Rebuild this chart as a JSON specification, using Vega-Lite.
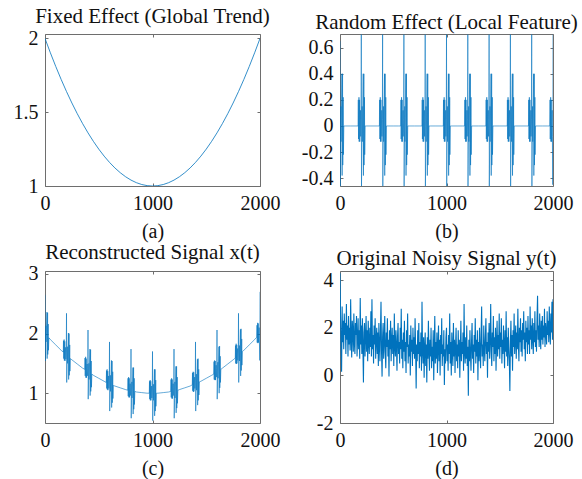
{
  "$schema": "https://vega.github.io/schema/vega-lite/v6.json",
  "padding": {"left": 12, "top": 5, "right": 0, "bottom": 0},
  "background": "white",
  "columns": 2,
  "spacing": {"row": 85, "column": 80},
  "bounds": "flush",
  "datasets": {
    "fixed": [
      {"t":0,"f":2},{"t":50,"f":1.9025},{"t":100,"f":1.81},{"t":150,"f":1.7225},{"t":200,"f":1.64},{"t":250,"f":1.5625},{"t":300,"f":1.49},{"t":350,"f":1.4225},{"t":400,"f":1.36},{"t":450,"f":1.3025},{"t":500,"f":1.25},{"t":550,"f":1.2025},{"t":600,"f":1.16},{"t":650,"f":1.1225},{"t":700,"f":1.09},{"t":750,"f":1.0625},{"t":800,"f":1.04},{"t":850,"f":1.0225},{"t":900,"f":1.01},{"t":950,"f":1.0025},{"t":1000,"f":1},
      {"t":1050,"f":1.0025},{"t":1100,"f":1.01},{"t":1150,"f":1.0225},{"t":1200,"f":1.04},{"t":1250,"f":1.0625},{"t":1300,"f":1.09},{"t":1350,"f":1.1225},{"t":1400,"f":1.16},{"t":1450,"f":1.2025},{"t":1500,"f":1.25},{"t":1550,"f":1.3025},{"t":1600,"f":1.36},{"t":1650,"f":1.4225},{"t":1700,"f":1.49},{"t":1750,"f":1.5625},{"t":1800,"f":1.64},{"t":1850,"f":1.7225},{"t":1900,"f":1.81},{"t":1950,"f":1.9025},{"t":2000,"f":2}
    ],
    "rx": [
      {"t":0,"r":0.65,"x":2.65},{"t":2,"r":-0.46,"x":1.54},{"t":8,"r":0.15,"x":2.13},{"t":10,"r":-0.12,"x":1.86},{"t":18,"r":0.4,"x":2.36},{"t":20,"r":-0.38,"x":1.58},{"t":24,"r":0.4,"x":2.35},{"t":26,"r":-0.3,"x":1.65},{"t":30,"r":0.22,"x":2.16},{"t":32,"r":-0.22,"x":1.72},{"t":36,"r":0,"x":1.93},
      {"t":50,"r":0,"x":1.9},{"t":100,"r":0,"x":1.81},{"t":150,"r":0,"x":1.72},
      {"t":170,"r":0,"x":1.69},{"t":172,"r":0.2,"x":1.88},{"t":174,"r":-0.1,"x":1.58},{"t":178,"r":0.22,"x":1.9},{"t":180,"r":-0.12,"x":1.55},{"t":184,"r":0.2,"x":1.87},{"t":186,"r":-0.12,"x":1.54},{"t":192,"r":0.12,"x":1.77},{"t":194,"r":-0.08,"x":1.57},{"t":198,"r":0.05,"x":1.69},{"t":200,"r":0.7,"x":2.34},{"t":202,"r":-0.46,"x":1.18},{"t":208,"r":0.15,"x":1.78},{"t":210,"r":-0.12,"x":1.5},{"t":218,"r":0.4,"x":2.01},{"t":220,"r":-0.38,"x":1.23},{"t":224,"r":0.4,"x":2.0},{"t":226,"r":-0.3,"x":1.3},{"t":230,"r":0.22,"x":1.81},{"t":232,"r":-0.22,"x":1.37},{"t":236,"r":0,"x":1.58},
      {"t":250,"r":0,"x":1.56},{"t":300,"r":0,"x":1.49},{"t":350,"r":0,"x":1.42},
      {"t":370,"r":0,"x":1.4},{"t":372,"r":0.2,"x":1.59},{"t":374,"r":-0.1,"x":1.29},{"t":378,"r":0.22,"x":1.61},{"t":380,"r":-0.12,"x":1.26},{"t":384,"r":0.2,"x":1.58},{"t":386,"r":-0.12,"x":1.26},{"t":392,"r":0.12,"x":1.49},{"t":394,"r":-0.08,"x":1.29},{"t":398,"r":0.05,"x":1.41},{"t":400,"r":0.7,"x":2.06},{"t":402,"r":-0.46,"x":0.9},{"t":408,"r":0.15,"x":1.5},{"t":410,"r":-0.12,"x":1.23},{"t":418,"r":0.4,"x":1.74},{"t":420,"r":-0.38,"x":0.96},{"t":424,"r":0.4,"x":1.73},{"t":426,"r":-0.3,"x":1.03},{"t":430,"r":0.22,"x":1.54},{"t":432,"r":-0.22,"x":1.1},{"t":436,"r":0,"x":1.32},
      {"t":450,"r":0,"x":1.3},{"t":500,"r":0,"x":1.25},{"t":550,"r":0,"x":1.2},
      {"t":570,"r":0,"x":1.18},{"t":572,"r":0.2,"x":1.38},{"t":574,"r":-0.1,"x":1.08},{"t":578,"r":0.22,"x":1.4},{"t":580,"r":-0.12,"x":1.06},{"t":584,"r":0.2,"x":1.37},{"t":586,"r":-0.12,"x":1.05},{"t":592,"r":0.12,"x":1.29},{"t":594,"r":-0.08,"x":1.08},{"t":598,"r":0.05,"x":1.21},{"t":600,"r":0.7,"x":1.86},{"t":602,"r":-0.46,"x":0.7},{"t":608,"r":0.15,"x":1.3},{"t":610,"r":-0.12,"x":1.03},{"t":618,"r":0.4,"x":1.55},{"t":620,"r":-0.38,"x":0.76},{"t":624,"r":0.4,"x":1.54},{"t":626,"r":-0.3,"x":0.84},{"t":630,"r":0.22,"x":1.36},{"t":632,"r":-0.22,"x":0.91},{"t":636,"r":0,"x":1.13},
      {"t":650,"r":0,"x":1.12},{"t":700,"r":0,"x":1.09},{"t":750,"r":0,"x":1.06},
      {"t":770,"r":0,"x":1.05},{"t":772,"r":0.2,"x":1.25},{"t":774,"r":-0.1,"x":0.95},{"t":778,"r":0.22,"x":1.27},{"t":780,"r":-0.12,"x":0.93},{"t":784,"r":0.2,"x":1.25},{"t":786,"r":-0.12,"x":0.93},{"t":792,"r":0.12,"x":1.16},{"t":794,"r":-0.08,"x":0.96},{"t":798,"r":0.05,"x":1.09},{"t":800,"r":0.7,"x":1.74},{"t":802,"r":-0.46,"x":0.58},{"t":808,"r":0.15,"x":1.19},{"t":810,"r":-0.12,"x":0.92},{"t":818,"r":0.4,"x":1.43},{"t":820,"r":-0.38,"x":0.65},{"t":824,"r":0.4,"x":1.43},{"t":826,"r":-0.3,"x":0.73},{"t":830,"r":0.22,"x":1.25},{"t":832,"r":-0.22,"x":0.81},{"t":836,"r":0,"x":1.03},
      {"t":850,"r":0,"x":1.02},{"t":900,"r":0,"x":1.01},{"t":950,"r":0,"x":1},
      {"t":970,"r":0,"x":1},{"t":972,"r":0.2,"x":1.2},{"t":974,"r":-0.1,"x":0.9},{"t":978,"r":0.22,"x":1.22},{"t":980,"r":-0.12,"x":0.88},{"t":984,"r":0.2,"x":1.2},{"t":986,"r":-0.12,"x":0.88},{"t":992,"r":0.12,"x":1.12},{"t":994,"r":-0.08,"x":0.92},{"t":998,"r":0.05,"x":1.05},{"t":1000,"r":0.7,"x":1.7},{"t":1002,"r":-0.46,"x":0.54},{"t":1008,"r":0.15,"x":1.15},{"t":1010,"r":-0.12,"x":0.88},{"t":1018,"r":0.4,"x":1.4},{"t":1020,"r":-0.38,"x":0.62},{"t":1024,"r":0.4,"x":1.4},{"t":1026,"r":-0.3,"x":0.7},{"t":1030,"r":0.22,"x":1.22},{"t":1032,"r":-0.22,"x":0.78},{"t":1036,"r":0,"x":1},
      {"t":1050,"r":0,"x":1},{"t":1100,"r":0,"x":1.01},{"t":1150,"r":0,"x":1.02},
      {"t":1170,"r":0,"x":1.03},{"t":1172,"r":0.2,"x":1.23},{"t":1174,"r":-0.1,"x":0.93},{"t":1178,"r":0.22,"x":1.25},{"t":1180,"r":-0.12,"x":0.91},{"t":1184,"r":0.2,"x":1.23},{"t":1186,"r":-0.12,"x":0.91},{"t":1192,"r":0.12,"x":1.16},{"t":1194,"r":-0.08,"x":0.96},{"t":1198,"r":0.05,"x":1.09},{"t":1200,"r":0.7,"x":1.74},{"t":1202,"r":-0.46,"x":0.58},{"t":1208,"r":0.15,"x":1.19},{"t":1210,"r":-0.12,"x":0.92},{"t":1218,"r":0.4,"x":1.45},{"t":1220,"r":-0.38,"x":0.67},{"t":1224,"r":0.4,"x":1.45},{"t":1226,"r":-0.3,"x":0.75},{"t":1230,"r":0.22,"x":1.27},{"t":1232,"r":-0.22,"x":0.83},{"t":1236,"r":0,"x":1.05},
      {"t":1250,"r":0,"x":1.06},{"t":1300,"r":0,"x":1.09},{"t":1350,"r":0,"x":1.12},
      {"t":1370,"r":0,"x":1.14},{"t":1372,"r":0.2,"x":1.34},{"t":1374,"r":-0.1,"x":1.04},{"t":1378,"r":0.22,"x":1.36},{"t":1380,"r":-0.12,"x":1.02},{"t":1384,"r":0.2,"x":1.35},{"t":1386,"r":-0.12,"x":1.03},{"t":1392,"r":0.12,"x":1.27},{"t":1394,"r":-0.08,"x":1.08},{"t":1398,"r":0.05,"x":1.21},{"t":1400,"r":0.7,"x":1.86},{"t":1402,"r":-0.46,"x":0.7},{"t":1408,"r":0.15,"x":1.32},{"t":1410,"r":-0.12,"x":1.05},{"t":1418,"r":0.4,"x":1.57},{"t":1420,"r":-0.38,"x":0.8},{"t":1424,"r":0.4,"x":1.58},{"t":1426,"r":-0.3,"x":0.88},{"t":1430,"r":0.22,"x":1.4},{"t":1432,"r":-0.22,"x":0.97},{"t":1436,"r":0,"x":1.19},
      {"t":1450,"r":0,"x":1.2},{"t":1500,"r":0,"x":1.25},{"t":1550,"r":0,"x":1.3},
      {"t":1570,"r":0,"x":1.32},{"t":1572,"r":0.2,"x":1.53},{"t":1574,"r":-0.1,"x":1.23},{"t":1578,"r":0.22,"x":1.55},{"t":1580,"r":-0.12,"x":1.22},{"t":1584,"r":0.2,"x":1.54},{"t":1586,"r":-0.12,"x":1.22},{"t":1592,"r":0.12,"x":1.47},{"t":1594,"r":-0.08,"x":1.27},{"t":1598,"r":0.05,"x":1.41},{"t":1600,"r":0.7,"x":2.06},{"t":1602,"r":-0.46,"x":0.9},{"t":1608,"r":0.15,"x":1.52},{"t":1610,"r":-0.12,"x":1.25},{"t":1618,"r":0.4,"x":1.78},{"t":1620,"r":-0.38,"x":1.0},{"t":1624,"r":0.4,"x":1.79},{"t":1626,"r":-0.3,"x":1.09},{"t":1630,"r":0.22,"x":1.62},{"t":1632,"r":-0.22,"x":1.18},{"t":1636,"r":0,"x":1.4},
      {"t":1650,"r":0,"x":1.42},{"t":1700,"r":0,"x":1.49},{"t":1750,"r":0,"x":1.56},
      {"t":1770,"r":0,"x":1.59},{"t":1772,"r":0.2,"x":1.8},{"t":1774,"r":-0.1,"x":1.5},{"t":1778,"r":0.22,"x":1.83},{"t":1780,"r":-0.12,"x":1.49},{"t":1784,"r":0.2,"x":1.81},{"t":1786,"r":-0.12,"x":1.5},{"t":1792,"r":0.12,"x":1.75},{"t":1794,"r":-0.08,"x":1.55},{"t":1798,"r":0.05,"x":1.69},{"t":1800,"r":0.7,"x":2.34},{"t":1802,"r":-0.46,"x":1.18},{"t":1808,"r":0.15,"x":1.8},{"t":1810,"r":-0.12,"x":1.54},{"t":1818,"r":0.4,"x":2.07},{"t":1820,"r":-0.38,"x":1.29},{"t":1824,"r":0.4,"x":2.08},{"t":1826,"r":-0.3,"x":1.38},{"t":1830,"r":0.22,"x":1.91},{"t":1832,"r":-0.22,"x":1.47},{"t":1836,"r":0,"x":1.7},
      {"t":1850,"r":0,"x":1.72},{"t":1900,"r":0,"x":1.81},{"t":1950,"r":0,"x":1.9},
      {"t":1970,"r":0,"x":1.94},{"t":1972,"r":0.2,"x":2.14},{"t":1974,"r":-0.1,"x":1.85},{"t":1978,"r":0.22,"x":2.18},{"t":1980,"r":-0.12,"x":1.84},{"t":1984,"r":0.2,"x":2.17},{"t":1986,"r":-0.12,"x":1.85},{"t":1992,"r":0.12,"x":2.1},{"t":1994,"r":-0.08,"x":1.91},{"t":1998,"r":-0.45,"x":1.55},{"t":2000,"r":0.7,"x":2.7}
    ],
    "noisy": [
      {"t":0,"y":4.3},{"t":5,"y":2.55},{"t":10,"y":1.2},{"t":15,"y":0.15},{"t":20,"y":2.9},{"t":25,"y":1.4},{"t":30,"y":2.3},{"t":35,"y":1.1},{"t":40,"y":2.6},{"t":45,"y":1.7},{"t":50,"y":2.2},{"t":55,"y":0.9},{"t":60,"y":3.0},{"t":65,"y":1.5},{"t":70,"y":2.1},{"t":75,"y":0.8},{"t":80,"y":2.5},{"t":85,"y":1.3},{"t":90,"y":2.0},{"t":95,"y":1.05},
      {"t":100,"y":3.2},{"t":105,"y":1.6},{"t":110,"y":0.75},{"t":115,"y":2.3},{"t":120,"y":1.9},{"t":125,"y":1.0},{"t":130,"y":2.6},{"t":135,"y":1.4},{"t":140,"y":0.9},{"t":145,"y":2.2},{"t":150,"y":1.7},{"t":155,"y":2.5},{"t":160,"y":0.8},{"t":165,"y":1.5},{"t":170,"y":2.4},{"t":175,"y":1.1},{"t":180,"y":1.9},{"t":185,"y":0.7},{"t":190,"y":3.25},{"t":195,"y":1.3},
      {"t":200,"y":2.1},{"t":205,"y":0.9},{"t":210,"y":2.4},{"t":215,"y":1.2},{"t":220,"y":-0.3},{"t":225,"y":1.8},{"t":230,"y":2.2},{"t":235,"y":0.8},{"t":240,"y":1.6},{"t":245,"y":2.5},{"t":250,"y":1.0},{"t":255,"y":1.9},{"t":260,"y":0.6},{"t":265,"y":2.3},{"t":270,"y":1.4},{"t":275,"y":0.9},{"t":280,"y":2.0},{"t":285,"y":1.2},{"t":290,"y":2.7},{"t":295,"y":0.8},
      {"t":300,"y":3.2},{"t":305,"y":1.1},{"t":310,"y":1.7},{"t":315,"y":0.5},{"t":320,"y":2.1},{"t":325,"y":1.3},{"t":330,"y":2.4},{"t":335,"y":0.7},{"t":340,"y":1.5},{"t":345,"y":2.0},{"t":350,"y":0.9},{"t":355,"y":1.8},{"t":360,"y":0.4},{"t":365,"y":2.2},{"t":370,"y":1.3},{"t":375,"y":0.6},{"t":380,"y":1.9},{"t":385,"y":3.1},{"t":390,"y":1.0},{"t":395,"y":-0.05},
      {"t":400,"y":1.6},{"t":405,"y":2.2},{"t":410,"y":0.7},{"t":415,"y":1.4},{"t":420,"y":2.5},{"t":425,"y":1.0},{"t":430,"y":0.3},{"t":435,"y":1.8},{"t":440,"y":1.2},{"t":445,"y":2.4},{"t":450,"y":0.8},{"t":455,"y":1.5},{"t":460,"y":-0.05},{"t":465,"y":1.9},{"t":470,"y":1.1},{"t":475,"y":2.3},{"t":480,"y":0.6},{"t":485,"y":1.4},{"t":490,"y":2.0},{"t":495,"y":0.9},
      {"t":500,"y":1.7},{"t":505,"y":0.4},{"t":510,"y":2.6},{"t":515,"y":1.2},{"t":520,"y":0.8},{"t":525,"y":1.9},{"t":530,"y":1.3},{"t":535,"y":0.2},{"t":540,"y":1.6},{"t":545,"y":2.2},{"t":550,"y":0.9},{"t":555,"y":1.4},{"t":560,"y":0.5},{"t":565,"y":2.0},{"t":570,"y":1.1},{"t":575,"y":2.8},{"t":580,"y":0.7},{"t":585,"y":1.5},{"t":590,"y":0.3},{"t":595,"y":1.8},
      {"t":600,"y":1.0},{"t":605,"y":2.3},{"t":610,"y":0.6},{"t":615,"y":1.4},{"t":620,"y":0.1},{"t":625,"y":1.9},{"t":630,"y":1.2},{"t":635,"y":2.6},{"t":640,"y":0.5},{"t":645,"y":1.3},{"t":650,"y":0.8},{"t":655,"y":1.7},{"t":660,"y":0.0},{"t":665,"y":2.1},{"t":670,"y":1.0},{"t":675,"y":1.5},{"t":680,"y":0.4},{"t":685,"y":2.0},{"t":690,"y":0.9},{"t":695,"y":1.6},
      {"t":700,"y":0.7},{"t":705,"y":2.4},{"t":710,"y":1.1},{"t":715,"y":-0.55},{"t":720,"y":1.3},{"t":725,"y":0.6},{"t":730,"y":1.9},{"t":735,"y":0.9},{"t":740,"y":2.2},{"t":745,"y":0.3},{"t":750,"y":1.4},{"t":755,"y":0.8},{"t":760,"y":1.8},{"t":765,"y":0.2},{"t":770,"y":3.1},{"t":775,"y":1.0},{"t":780,"y":0.5},{"t":785,"y":1.6},{"t":790,"y":-0.1},{"t":795,"y":1.2},
      {"t":800,"y":1.8},{"t":805,"y":0.4},{"t":810,"y":1.3},{"t":815,"y":-0.3},{"t":820,"y":1.6},{"t":825,"y":0.7},{"t":830,"y":2.3},{"t":835,"y":1.0},{"t":840,"y":0.2},{"t":845,"y":1.5},{"t":850,"y":0.8},{"t":855,"y":2.0},{"t":860,"y":0.3},{"t":865,"y":1.2},{"t":870,"y":0.6},{"t":875,"y":1.9},{"t":880,"y":-0.2},{"t":885,"y":1.1},{"t":890,"y":2.5},{"t":895,"y":0.5},
      {"t":900,"y":1.4},{"t":905,"y":0.7},{"t":910,"y":1.8},{"t":915,"y":0.1},{"t":920,"y":1.2},{"t":925,"y":2.1},{"t":930,"y":0.6},{"t":935,"y":1.5},{"t":940,"y":0.0},{"t":945,"y":1.7},{"t":950,"y":0.9},{"t":955,"y":2.4},{"t":960,"y":0.4},{"t":965,"y":1.3},{"t":970,"y":0.8},{"t":975,"y":1.9},{"t":980,"y":-0.4},{"t":985,"y":1.1},{"t":990,"y":0.5},{"t":995,"y":1.6},
      {"t":1000,"y":2.0},{"t":1005,"y":0.6},{"t":1010,"y":1.3},{"t":1015,"y":0.2},{"t":1020,"y":1.7},{"t":1025,"y":0.9},{"t":1030,"y":2.6},{"t":1035,"y":0.5},{"t":1040,"y":1.4},{"t":1045,"y":0.0},{"t":1050,"y":1.8},{"t":1055,"y":1.0},{"t":1060,"y":0.4},{"t":1065,"y":2.2},{"t":1070,"y":0.8},{"t":1075,"y":1.5},{"t":1080,"y":0.1},{"t":1085,"y":1.2},{"t":1090,"y":2.0},{"t":1095,"y":0.6},
      {"t":1100,"y":1.3},{"t":1105,"y":0.3},{"t":1110,"y":1.9},{"t":1115,"y":0.8},{"t":1120,"y":1.5},{"t":1125,"y":-0.1},{"t":1130,"y":1.1},{"t":1135,"y":2.3},{"t":1140,"y":0.6},{"t":1145,"y":1.4},{"t":1150,"y":0.9},{"t":1155,"y":1.8},{"t":1160,"y":0.2},{"t":1165,"y":3.0},{"t":1170,"y":1.0},{"t":1175,"y":0.5},{"t":1180,"y":1.6},{"t":1185,"y":0.7},{"t":1190,"y":2.1},{"t":1195,"y":0.4},
      {"t":1200,"y":1.2},{"t":1205,"y":-0.85},{"t":1210,"y":1.5},{"t":1215,"y":0.6},{"t":1220,"y":1.9},{"t":1225,"y":0.9},{"t":1230,"y":0.2},{"t":1235,"y":1.4},{"t":1240,"y":2.2},{"t":1245,"y":0.7},{"t":1250,"y":1.3},{"t":1255,"y":0.1},{"t":1260,"y":1.7},{"t":1265,"y":1.0},{"t":1270,"y":2.4},{"t":1275,"y":0.5},{"t":1280,"y":1.5},{"t":1285,"y":0.8},{"t":1290,"y":1.9},{"t":1295,"y":-0.2},
      {"t":1300,"y":1.4},{"t":1305,"y":0.6},{"t":1310,"y":2.0},{"t":1315,"y":1.0},{"t":1320,"y":0.3},{"t":1325,"y":1.7},{"t":1330,"y":2.9},{"t":1335,"y":0.8},{"t":1340,"y":1.3},{"t":1345,"y":0.4},{"t":1350,"y":2.1},{"t":1355,"y":1.1},{"t":1360,"y":0.6},{"t":1365,"y":1.6},{"t":1370,"y":2.4},{"t":1375,"y":0.9},{"t":1380,"y":1.4},{"t":1385,"y":-0.1},{"t":1390,"y":1.8},{"t":1395,"y":1.0},
      {"t":1400,"y":2.2},{"t":1405,"y":0.7},{"t":1410,"y":1.5},{"t":1415,"y":3.0},{"t":1420,"y":1.0},{"t":1425,"y":0.4},{"t":1430,"y":1.8},{"t":1435,"y":1.2},{"t":1440,"y":2.5},{"t":1445,"y":0.6},{"t":1450,"y":1.6},{"t":1455,"y":0.9},{"t":1460,"y":2.0},{"t":1465,"y":0.2},{"t":1470,"y":1.4},{"t":1475,"y":2.3},{"t":1480,"y":0.8},{"t":1485,"y":1.7},{"t":1490,"y":1.1},{"t":1495,"y":2.6},
      {"t":1500,"y":0.7},{"t":1505,"y":1.8},{"t":1510,"y":1.2},{"t":1515,"y":2.4},{"t":1520,"y":0.5},{"t":1525,"y":1.5},{"t":1530,"y":0.9},{"t":1535,"y":2.1},{"t":1540,"y":1.3},{"t":1545,"y":0.3},{"t":1550,"y":1.9},{"t":1555,"y":1.0},{"t":1560,"y":2.7},{"t":1565,"y":0.8},{"t":1570,"y":1.6},{"t":1575,"y":0.4},{"t":1580,"y":2.0},{"t":1585,"y":1.2},{"t":1590,"y":0.6},{"t":1595,"y":-0.65},
      {"t":1600,"y":1.4},{"t":1605,"y":2.3},{"t":1610,"y":0.8},{"t":1615,"y":1.7},{"t":1620,"y":0.2},{"t":1625,"y":1.9},{"t":1630,"y":1.2},{"t":1635,"y":2.6},{"t":1640,"y":0.9},{"t":1645,"y":1.5},{"t":1650,"y":2.1},{"t":1655,"y":0.7},{"t":1660,"y":1.8},{"t":1665,"y":1.1},{"t":1670,"y":2.8},{"t":1675,"y":1.3},{"t":1680,"y":0.6},{"t":1685,"y":2.0},{"t":1690,"y":1.4},{"t":1695,"y":2.4},
      {"t":1700,"y":1.0},{"t":1705,"y":1.9},{"t":1710,"y":0.8},{"t":1715,"y":2.2},{"t":1720,"y":1.5},{"t":1725,"y":2.7},{"t":1730,"y":1.1},{"t":1735,"y":1.8},{"t":1740,"y":0.6},{"t":1745,"y":2.3},{"t":1750,"y":1.4},{"t":1755,"y":2.0},{"t":1760,"y":0.9},{"t":1765,"y":2.5},{"t":1770,"y":1.3},{"t":1775,"y":1.9},{"t":1780,"y":0.9},{"t":1785,"y":2.9},{"t":1790,"y":1.5},{"t":1795,"y":2.1},
      {"t":1800,"y":1.1},{"t":1805,"y":2.4},{"t":1810,"y":1.6},{"t":1815,"y":0.9},{"t":1820,"y":2.2},{"t":1825,"y":1.4},{"t":1830,"y":2.7},{"t":1835,"y":1.2},{"t":1840,"y":1.9},{"t":1845,"y":1.0},{"t":1850,"y":2.4},{"t":1855,"y":3.35},{"t":1860,"y":1.5},{"t":1865,"y":2.1},{"t":1870,"y":1.2},{"t":1875,"y":2.6},{"t":1880,"y":1.7},{"t":1885,"y":1.1},{"t":1890,"y":2.3},{"t":1895,"y":1.5},
      {"t":1900,"y":2.5},{"t":1905,"y":1.3},{"t":1910,"y":2.1},{"t":1915,"y":1.6},{"t":1920,"y":2.8},{"t":1925,"y":1.2},{"t":1930,"y":2.2},{"t":1935,"y":1.8},{"t":1940,"y":1.3},{"t":1945,"y":2.7},{"t":1950,"y":1.7},{"t":1955,"y":2.3},{"t":1960,"y":1.4},{"t":1965,"y":2.9},{"t":1970,"y":1.9},{"t":1975,"y":1.3},{"t":1980,"y":2.6},{"t":1985,"y":1.8},{"t":1990,"y":3.1},{"t":1995,"y":1.5},{"t":2000,"y":3.2}
    ]
  },
  "concat": [
    {
      "title": "Fixed Effect (Global Trend)",
      "width": 215, "height": 152,
      "data": {"name": "fixed"},
      "layer": [
        {"mark": {"type": "line", "clip": true, "strokeWidth": 0.8},
         "encoding": {
           "x": {"field": "t", "type": "quantitative", "scale": {"domain": [0, 2000], "nice": false, "zero": false}, "axis": {"values": [0, 1000, 2000], "title": "(a)"}},
           "y": {"field": "f", "type": "quantitative", "scale": {"domain": [1, 2.03], "nice": false, "zero": false}, "axis": {"values": [1, 1.5, 2], "title": null}}
         }},
        {"mark": {"type": "line", "opacity": 0},
         "encoding": {
           "x": {"field": "t", "type": "quantitative", "scale": {"domain": [0, 2000], "nice": false, "zero": false}, "axis": {"orient": "top", "values": [0, 1000, 2000], "labels": false, "title": null}},
           "y": {"field": "f", "type": "quantitative", "scale": {"domain": [1, 2.03], "nice": false, "zero": false}, "axis": {"orient": "right", "values": [1, 1.5, 2], "labels": false, "title": null}}
         }}
      ],
      "resolve": {"axis": {"x": "independent", "y": "independent"}}
    },
    {
      "title": "Random Effect (Local Feature)",
      "width": 213, "height": 152,
      "data": {"name": "rx"},
      "layer": [
        {"mark": {"type": "line", "clip": true},
         "encoding": {
           "x": {"field": "t", "type": "quantitative", "scale": {"domain": [0, 2000], "nice": false, "zero": false}, "axis": {"values": [0, 1000, 2000], "title": "(b)"}},
           "y": {"field": "r", "type": "quantitative", "scale": {"domain": [-0.46, 0.705], "nice": false, "zero": false}, "axis": {"values": [-0.4, -0.2, 0, 0.2, 0.4, 0.6], "title": null}}
         }},
        {"mark": {"type": "line", "opacity": 0},
         "encoding": {
           "x": {"field": "t", "type": "quantitative", "scale": {"domain": [0, 2000], "nice": false, "zero": false}, "axis": {"orient": "top", "values": [0, 1000, 2000], "labels": false, "title": null}},
           "y": {"field": "r", "type": "quantitative", "scale": {"domain": [-0.46, 0.705], "nice": false, "zero": false}, "axis": {"orient": "right", "values": [-0.4, -0.2, 0, 0.2, 0.4, 0.6], "labels": false, "title": null}}
         }}
      ],
      "resolve": {"axis": {"x": "independent", "y": "independent"}}
    },
    {
      "title": "Reconstructed Signal x(t)",
      "width": 215, "height": 152,
      "data": {"name": "rx"},
      "layer": [
        {"mark": {"type": "line", "clip": true},
         "encoding": {
           "x": {"field": "t", "type": "quantitative", "scale": {"domain": [0, 2000], "nice": false, "zero": false}, "axis": {"values": [0, 1000, 2000], "title": "(c)"}},
           "y": {"field": "x", "type": "quantitative", "scale": {"domain": [0.5, 3.05], "nice": false, "zero": false}, "axis": {"values": [1, 2, 3], "title": null}}
         }},
        {"mark": {"type": "line", "opacity": 0},
         "encoding": {
           "x": {"field": "t", "type": "quantitative", "scale": {"domain": [0, 2000], "nice": false, "zero": false}, "axis": {"orient": "top", "values": [0, 1000, 2000], "labels": false, "title": null}},
           "y": {"field": "x", "type": "quantitative", "scale": {"domain": [0.5, 3.05], "nice": false, "zero": false}, "axis": {"orient": "right", "values": [1, 2, 3], "labels": false, "title": null}}
         }}
      ],
      "resolve": {"axis": {"x": "independent", "y": "independent"}}
    },
    {
      "title": "Original Noisy Signal y(t)",
      "width": 213, "height": 152,
      "data": {"name": "noisy"},
      "layer": [
        {"mark": {"type": "line", "clip": true, "strokeWidth": 1.1},
         "encoding": {
           "x": {"field": "t", "type": "quantitative", "scale": {"domain": [0, 2000], "nice": false, "zero": false}, "axis": {"values": [0, 1000, 2000], "title": "(d)"}},
           "y": {"field": "y", "type": "quantitative", "scale": {"domain": [-2, 4.39], "nice": false, "zero": false}, "axis": {"values": [-2, 0, 2, 4], "title": null}}
         }},
        {"mark": {"type": "line", "opacity": 0},
         "encoding": {
           "x": {"field": "t", "type": "quantitative", "scale": {"domain": [0, 2000], "nice": false, "zero": false}, "axis": {"orient": "top", "values": [0, 1000, 2000], "labels": false, "title": null}},
           "y": {"field": "y", "type": "quantitative", "scale": {"domain": [-2, 4.39], "nice": false, "zero": false}, "axis": {"orient": "right", "values": [-2, 0, 2, 4], "labels": false, "title": null}}
         }}
      ],
      "resolve": {"axis": {"x": "independent", "y": "independent"}}
    }
  ],
  "config": {
    "font": "Liberation Serif",
    "view": {"stroke": "#6e6e6e", "strokeWidth": 1},
    "line": {"color": "#0072BD", "strokeWidth": 0.6},
    "axis": {
      "grid": false, "domain": false,
      "labelFont": "Liberation Serif", "labelFontSize": 20, "labelColor": "#111111",
      "labelExpr": "'' + datum.value",
      "labelFlush": false, "labelOverlap": false, "labelBound": false,
      "tickColor": "#6e6e6e", "tickSize": -3, "tickWidth": 1,
      "labelPadding": 10,
      "titleFont": "Liberation Serif", "titleFontSize": 20, "titleFontWeight": "normal", "titleColor": "#111111", "titlePadding": 8
    },
    "title": {"font": "Liberation Serif", "fontSize": 21, "fontWeight": "normal", "color": "#111111", "offset": 1, "anchor": "middle"}
  }
}
